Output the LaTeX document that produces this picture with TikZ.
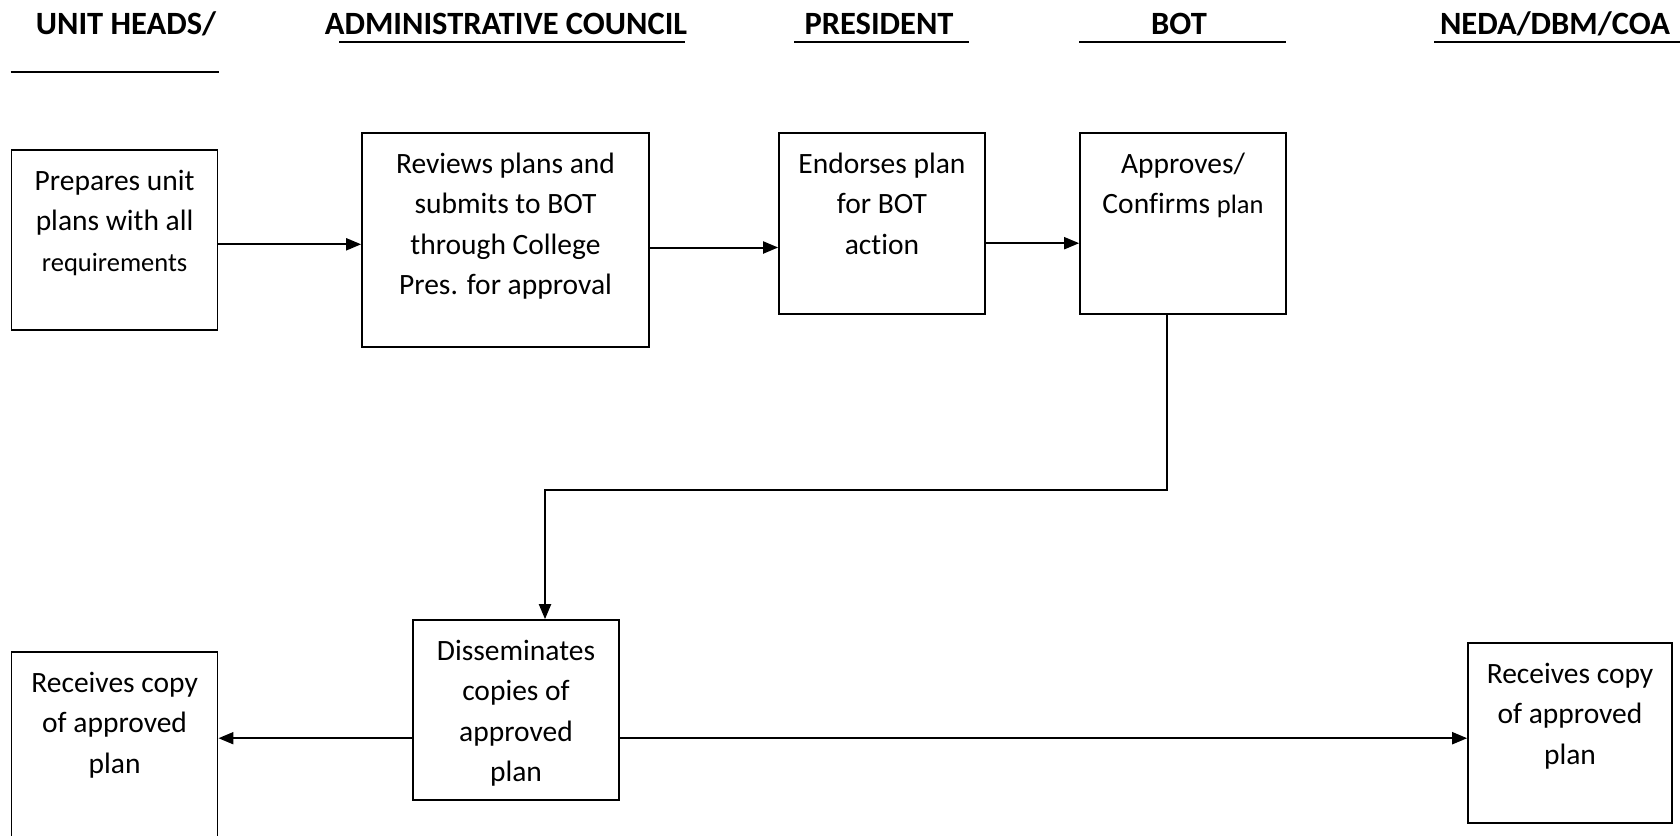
\documentclass[tikz,border=0pt]{standalone}
\usepackage{fontspec}
\setmainfont{Carlito}[Ligatures=NoCommon]
\usetikzlibrary{arrows.meta}

% text inside a box: fixed width and height, lines hanging from the top
\newcommand\boxlines[3]{\parbox[c][#2][t]{#1}{\centering\vspace*{12pt}\strut#3\par}}
\newcommand\smallword[1]{{\fontsize{26.5}{40.5}\selectfont #1}}

\begin{document}
\begin{tikzpicture}[x=1pt,y=-1pt,
  stepbox/.style={draw=black, line width=1.7pt, inner sep=0pt, fill=white,
    font=\fontsize{29.5}{40.5}\selectfont},
  heading/.style={font=\fontsize{32.5}{36}\selectfont\bfseries, inner sep=0pt},
  headrule/.style={line width=2.6pt, black},
  flow/.style={line width=2pt, -{Triangle[length=15pt,width=12pt]}}]

\useasboundingbox (0,0) rectangle (1680,835);

% column headings with their rules
\node[heading] (hUnit) at (126,23.5) {UNIT HEADS/};
\node[heading] (hAdmin) at (506,23.5) {ADMINISTRATIVE COUNCIL};
\node[heading] (hPres) at (879,23.5) {PRESIDENT};
\node[heading] (hBot) at (1179,23.5) {BOT};
\node[heading] (hNeda) at (1555,23.5) {NEDA/DBM/COA};

\draw[headrule] (10.7,72) -- (218.6,72);
\draw[headrule] (339,42) -- (685,42);
\draw[headrule] (794,42) -- (969,42);
\draw[headrule] (1079,42) -- (1286,42);
\draw[headrule] (1434,42) -- (1680,42);

% process steps
\node[stepbox] (b1) at (114.6,240)
  {\boxlines{206pt}{180pt}{Prepares unit\\plans with all\\\smallword{requirements}}};
\node[stepbox] (b2) at (505.5,240)
  {\boxlines{287pt}{214pt}{Reviews plans and\\submits to BOT\\through College\\Pres. for approval}};
\node[stepbox] (b3) at (882,223.5)
  {\boxlines{206pt}{181pt}{Endorses plan\\for BOT\\action}};
\node[stepbox] (b4) at (1183,223.5)
  {\boxlines{206pt}{181pt}{Approves/\\Confirms \smallword{plan}}};
\node[stepbox] (b5) at (516,710)
  {\boxlines{206pt}{180pt}{Disseminates\\copies of\\approved\\plan}};
\node[stepbox] (b6) at (114.6,745)
  {\boxlines{206pt}{186pt}{Receives copy\\of approved\\plan}};
\node[stepbox] (b7) at (1570,733)
  {\boxlines{204pt}{180pt}{Receives copy\\of approved\\plan}};

% rows and columns the connectors run along
\coordinate (rowA) at (0,244.3);
\coordinate (rowB) at (0,247.5);
\coordinate (rowC) at (0,243.2);
\coordinate (rowD) at (0,738.2);
\coordinate (drop) at (1167,0);
\coordinate (turn) at (0,490);
\coordinate (feed) at (545,0);

\draw[flow] (b1.east |- rowA) -- (b2.west |- rowA);
\draw[flow] (b2.east |- rowB) -- (b3.west |- rowB);
\draw[flow] (b3.east |- rowC) -- (b4.west |- rowC);
\draw[flow] (b4.south -| drop) -- (drop |- turn) -- (feed |- turn) -- (b5.north -| feed);
\draw[flow] (b5.west |- rowD) -- (b6.east |- rowD);
\draw[flow] (b5.east |- rowD) -- (b7.west |- rowD);

\end{tikzpicture}
\end{document}
